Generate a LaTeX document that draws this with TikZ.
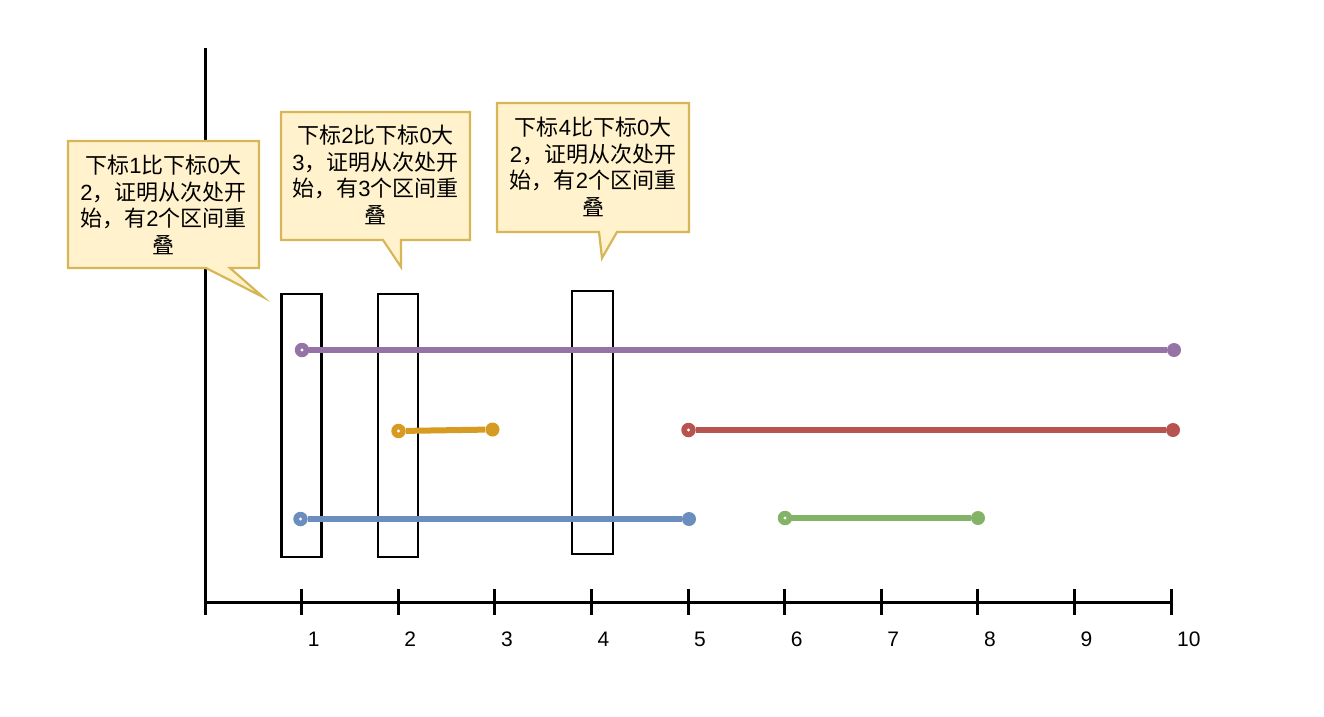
\documentclass[tikz,border=0pt]{standalone}
\usetikzlibrary{calc}
\usepackage{fontspec}
\setmainfont{Liberation Sans}
\newfontfamily\cjk{Noto Sans CJK SC}
\newcommand{\zh}[1]{{\cjk #1}}
\definecolor{cpurple}{HTML}{9673A6}
\definecolor{corange}{HTML}{D79B22}
\definecolor{cred}{HTML}{B85450}
\definecolor{cblue}{HTML}{6C8EBF}
\definecolor{cgreen}{HTML}{82B366}
\definecolor{notefill}{HTML}{FFF2CC}
\definecolor{notedraw}{HTML}{D6B656}
\begin{document}
\begin{tikzpicture}[x=1pt,y=-1pt,
  axis/.style={line width=3pt,black},
  calloutshape/.style={fill=notefill,draw=notedraw,line width=2.2pt,line join=miter},
  callouttext/.style={align=center,font=\fontsize{22}{26.7}\selectfont,inner sep=0pt},
  window/.style={draw=black,line width=2.2pt,minimum width=40pt,inner sep=0pt},
  enddot/.style={circle,fill=#1,minimum size=14pt,inner sep=0pt},
  startdot/.style={circle,fill=#1,minimum size=14.5pt,inner sep=0pt,
    path picture={\fill[white] (path picture bounding box.center) circle (1.6pt);}},
  seg/.style={line width=6pt,#1},
  ticklabel/.style={anchor=west,font=\fontsize{21}{24}\selectfont,inner sep=0pt}
]
\useasboundingbox (0,0) rectangle (1324,716);

% axes
\coordinate (origin) at (205,602);
\coordinate (ytop) at (205,48);
\coordinate (xend) at (1171,602);
\draw[axis] (ytop) -- (origin) -- (xend);
\foreach \i in {0,...,10} {
  \draw[axis] ($(origin)+(\i*96.6,-13)$) -- ($(origin)+(\i*96.6,13)$);
}
\foreach \i in {1,...,10} {
  \node[ticklabel] (lab\i) at ($(origin)+(\i*96.6+6,37)$) {\i};
}

% windows
\node[window,minimum height=263pt] (w1) at (301.5,425.5) {};
\node[window,minimum height=263pt] (w2) at (397.8,425.5) {};
\node[window,minimum width=41pt,minimum height=263pt] (w3) at (592.5,422.5) {};

% intervals
\node[startdot=cpurple] (pa) at (302,350) {};
\node[enddot=cpurple] (pb) at (1174,350) {};
\draw[seg=cpurple] (pa) -- (pb);

\node[startdot=corange] (oa) at (398.5,431) {};
\node[enddot=corange] (ob) at (492.5,429.5) {};
\draw[seg=corange] (oa) -- (ob);

\node[startdot=cred] (ra) at (688.5,430) {};
\node[enddot=cred] (rb) at (1173,430) {};
\draw[seg=cred] (ra) -- (rb);

\node[startdot=cblue] (ba) at (300.5,519) {};
\node[enddot=cblue] (bb) at (689,519) {};
\draw[seg=cblue] (ba) -- (bb);

\node[startdot=cgreen] (ga) at (785,518) {};
\node[enddot=cgreen] (gb) at (978,518) {};
\draw[seg=cgreen] (ga) -- (gb);

% callouts
\draw[calloutshape] (68,141) -- (259,141) -- (259,268) -- (230,268) -- (263,297) -- (206,268) -- (68,268) -- cycle;
\node[callouttext] (c1) at (163.5,205) {\zh{下标}1\zh{比下标}0\zh{大}\\2\zh{，证明从次处开}\\\zh{始，有}2\zh{个区间重}\\\zh{叠}};

\draw[calloutshape] (281,112) -- (470,112) -- (470,240) -- (401,240) -- (401,267) -- (383,240) -- (281,240) -- cycle;
\node[callouttext] (c2) at (375.5,175) {\zh{下标}2\zh{比下标}0\zh{大}\\3\zh{，证明从次处开}\\\zh{始，有}3\zh{个区间重}\\\zh{叠}};

\draw[calloutshape] (497,103) -- (689,103) -- (689,232) -- (617,232) -- (602,258) -- (599,232) -- (497,232) -- cycle;
\node[callouttext] (c3) at (593,167) {\zh{下标}4\zh{比下标}0\zh{大}\\2\zh{，证明从次处开}\\\zh{始，有}2\zh{个区间重}\\\zh{叠}};
\end{tikzpicture}
\end{document}
